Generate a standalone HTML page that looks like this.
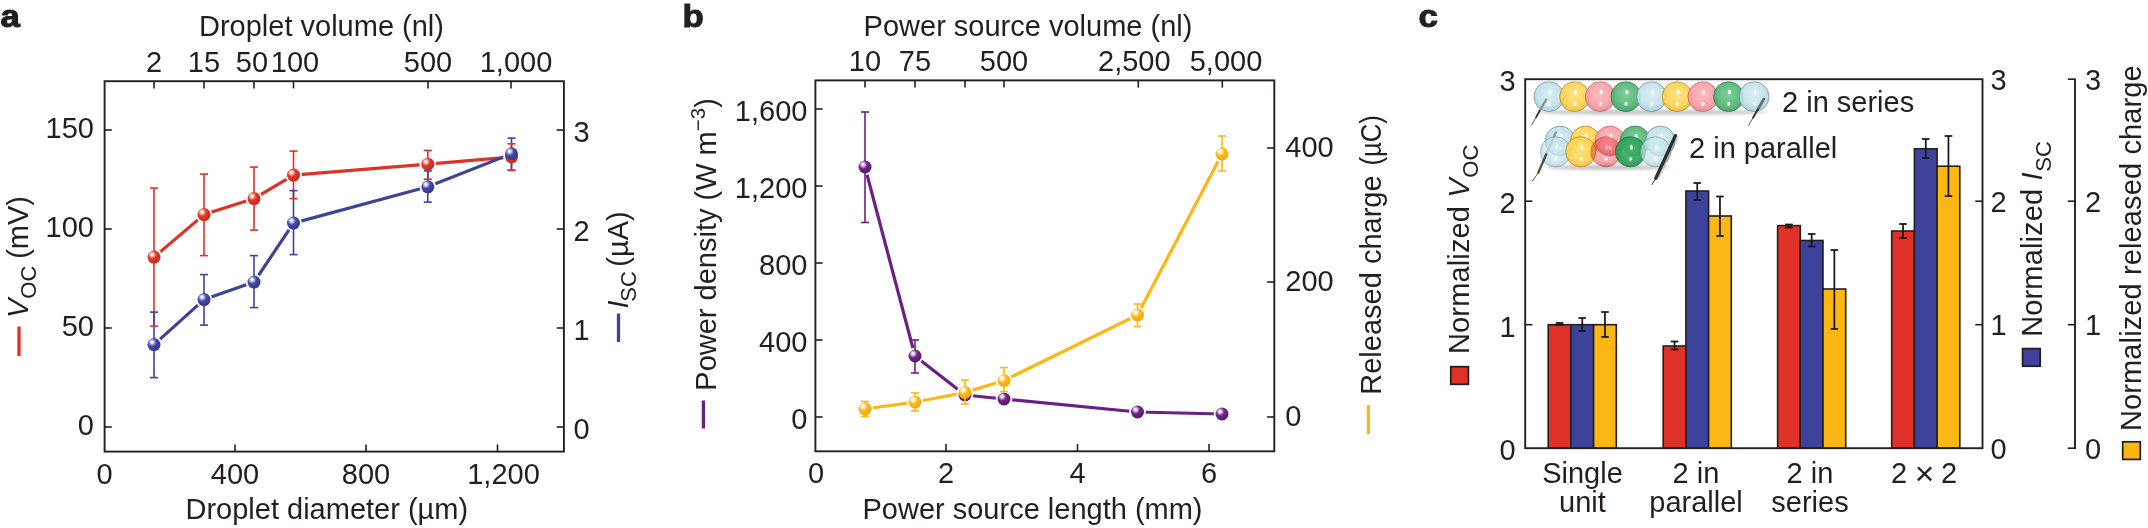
<!DOCTYPE html>
<html><head><meta charset="utf-8"><title>Figure</title>
<style>
html,body{margin:0;padding:0;background:#fff;}
body{width:2148px;height:528px;overflow:hidden;}
svg{display:block;font-family:"Liberation Sans",sans-serif;fill:#231f20;}
.b{font-weight:bold;stroke:#231f20;stroke-width:1.1px;}
</style></head><body>
<svg width="2148" height="528" viewBox="0 0 2148 528">
<defs>
<radialGradient id="gr" cx="0.38" cy="0.34" r="0.72" fx="0.34" fy="0.30"><stop offset="0" stop-color="#fff"/><stop offset="0.07" stop-color="#fff"/><stop offset="0.24" stop-color="#f6a08f"/><stop offset="0.44" stop-color="#e2382b"/><stop offset="1" stop-color="#c7211c"/></radialGradient>
<radialGradient id="gb" cx="0.38" cy="0.34" r="0.72" fx="0.34" fy="0.30"><stop offset="0" stop-color="#fff"/><stop offset="0.07" stop-color="#fff"/><stop offset="0.24" stop-color="#a9aee0"/><stop offset="0.44" stop-color="#444aa6"/><stop offset="1" stop-color="#2e3386"/></radialGradient>
<radialGradient id="gp" cx="0.38" cy="0.34" r="0.72" fx="0.34" fy="0.30"><stop offset="0" stop-color="#fff"/><stop offset="0.07" stop-color="#fff"/><stop offset="0.24" stop-color="#c39ad0"/><stop offset="0.44" stop-color="#6f2686"/><stop offset="1" stop-color="#531468"/></radialGradient>
<radialGradient id="gy" cx="0.38" cy="0.34" r="0.72" fx="0.34" fy="0.30"><stop offset="0" stop-color="#fff"/><stop offset="0.07" stop-color="#fff"/><stop offset="0.24" stop-color="#ffe9a8"/><stop offset="0.44" stop-color="#fdbb1f"/><stop offset="1" stop-color="#f0a400"/></radialGradient>
<radialGradient id="sw" cx="0.5" cy="0.42" r="0.62"><stop offset="0" stop-color="#d6eef3"/><stop offset="0.65" stop-color="#c3e2ea"/><stop offset="1" stop-color="#9fc9d4"/></radialGradient>
<radialGradient id="sy" cx="0.5" cy="0.42" r="0.62"><stop offset="0" stop-color="#fde27a"/><stop offset="0.65" stop-color="#fbd455"/><stop offset="1" stop-color="#e9b935"/></radialGradient>
<radialGradient id="sp" cx="0.5" cy="0.42" r="0.62"><stop offset="0" stop-color="#fbb9bb"/><stop offset="0.65" stop-color="#f6a1a5"/><stop offset="1" stop-color="#e6858c"/></radialGradient>
<radialGradient id="sg" cx="0.5" cy="0.42" r="0.62"><stop offset="0" stop-color="#7ccd98"/><stop offset="0.65" stop-color="#55b777"/><stop offset="1" stop-color="#3d9f62"/></radialGradient>
<radialGradient id="sr" cx="0.5" cy="0.42" r="0.62"><stop offset="0" stop-color="#f87a78"/><stop offset="0.65" stop-color="#ee5558"/><stop offset="1" stop-color="#dc4045"/></radialGradient>
<radialGradient id="sG" cx="0.5" cy="0.42" r="0.62"><stop offset="0" stop-color="#3fb56c"/><stop offset="0.65" stop-color="#2aa257"/><stop offset="1" stop-color="#1f8a4a"/></radialGradient>
<radialGradient id="sP" cx="0.5" cy="0.42" r="0.62"><stop offset="0" stop-color="#fcc3c5"/><stop offset="0.65" stop-color="#f8a9ad"/><stop offset="1" stop-color="#ee9096"/></radialGradient>
<filter id="b2" x="-50%" y="-50%" width="200%" height="200%"><feGaussianBlur stdDeviation="0.45"/></filter>
<filter id="blur" x="-10%" y="-200%" width="120%" height="500%"><feGaussianBlur stdDeviation="1.6"/></filter>
</defs>
<rect width="2148" height="528" fill="#fff"/>
<text transform="translate(0.4,27.3) scale(1.055,0.945)" font-size="33" class="b">a</text>
<rect x="104.6" y="81.2" width="459.29999999999995" height="370.40000000000003" fill="none" stroke="#231f20" stroke-width="1.9"/>
<line x1="104.6" y1="130" x2="111.8" y2="130" stroke="#231f20" stroke-width="1.6" stroke-linecap="butt"/>
<text x="94" y="138.2" font-size="29" text-anchor="end" >150</text>
<line x1="104.6" y1="229" x2="111.8" y2="229" stroke="#231f20" stroke-width="1.6" stroke-linecap="butt"/>
<text x="94" y="237.2" font-size="29" text-anchor="end" >100</text>
<line x1="104.6" y1="328" x2="111.8" y2="328" stroke="#231f20" stroke-width="1.6" stroke-linecap="butt"/>
<text x="94" y="336.2" font-size="29" text-anchor="end" >50</text>
<line x1="104.6" y1="427" x2="111.8" y2="427" stroke="#231f20" stroke-width="1.6" stroke-linecap="butt"/>
<text x="94" y="435.2" font-size="29" text-anchor="end" >0</text>
<line x1="563.9" y1="130" x2="556.6999999999999" y2="130" stroke="#231f20" stroke-width="1.6" stroke-linecap="butt"/>
<text x="573.6" y="141.7" font-size="29" text-anchor="start" >3</text>
<line x1="563.9" y1="229" x2="556.6999999999999" y2="229" stroke="#231f20" stroke-width="1.6" stroke-linecap="butt"/>
<text x="573.6" y="240.7" font-size="29" text-anchor="start" >2</text>
<line x1="563.9" y1="328" x2="556.6999999999999" y2="328" stroke="#231f20" stroke-width="1.6" stroke-linecap="butt"/>
<text x="573.6" y="339.7" font-size="29" text-anchor="start" >1</text>
<line x1="563.9" y1="427" x2="556.6999999999999" y2="427" stroke="#231f20" stroke-width="1.6" stroke-linecap="butt"/>
<text x="573.6" y="438.7" font-size="29" text-anchor="start" >0</text>
<text x="104.6" y="483.6" font-size="29" text-anchor="middle" >0</text>
<line x1="235" y1="451.6" x2="235" y2="444.40000000000003" stroke="#231f20" stroke-width="1.6" stroke-linecap="butt"/>
<text x="235" y="483.6" font-size="29" text-anchor="middle" >400</text>
<line x1="366" y1="451.6" x2="366" y2="444.40000000000003" stroke="#231f20" stroke-width="1.6" stroke-linecap="butt"/>
<text x="366" y="483.6" font-size="29" text-anchor="middle" >800</text>
<line x1="497.5" y1="451.6" x2="497.5" y2="444.40000000000003" stroke="#231f20" stroke-width="1.6" stroke-linecap="butt"/>
<text x="503.5" y="483.6" font-size="29" text-anchor="middle" >1,200</text>
<line x1="154" y1="81.2" x2="154" y2="88.4" stroke="#231f20" stroke-width="1.6" stroke-linecap="butt"/>
<line x1="204" y1="81.2" x2="204" y2="88.4" stroke="#231f20" stroke-width="1.6" stroke-linecap="butt"/>
<line x1="254" y1="81.2" x2="254" y2="88.4" stroke="#231f20" stroke-width="1.6" stroke-linecap="butt"/>
<line x1="293.5" y1="81.2" x2="293.5" y2="88.4" stroke="#231f20" stroke-width="1.6" stroke-linecap="butt"/>
<line x1="428" y1="81.2" x2="428" y2="88.4" stroke="#231f20" stroke-width="1.6" stroke-linecap="butt"/>
<line x1="511" y1="81.2" x2="511" y2="88.4" stroke="#231f20" stroke-width="1.6" stroke-linecap="butt"/>
<text x="154" y="71.6" font-size="29" text-anchor="middle" >2</text>
<text x="204" y="71.6" font-size="29" text-anchor="middle" >15</text>
<text x="252" y="71.6" font-size="29" text-anchor="middle" >50</text>
<text x="295" y="71.6" font-size="29" text-anchor="middle" >100</text>
<text x="428" y="71.6" font-size="29" text-anchor="middle" >500</text>
<text x="516" y="71.6" font-size="29" text-anchor="middle" >1,000</text>
<text x="321.5" y="36" font-size="29" text-anchor="middle" >Droplet volume (nl)</text>
<text x="326.8" y="519.2" font-size="29" text-anchor="middle" >Droplet diameter (µm)</text>
<line x1="19" y1="326.5" x2="19" y2="356" stroke="#df3127" stroke-width="3.3" stroke-linecap="butt"/>
<text transform="translate(27.5,318) rotate(-90)" font-size="29"><tspan font-style="italic">V</tspan><tspan font-size="22" dy="8.5" dx="0">OC</tspan><tspan dy="-8.5" dx="-1.2"> (mV)</tspan></text>
<line x1="618.5" y1="313.5" x2="618.5" y2="342" stroke="#3d439b" stroke-width="3.3" stroke-linecap="butt"/>
<text transform="translate(627.5,308.5) rotate(-90)" font-size="29"><tspan font-style="italic">I</tspan><tspan font-size="22" dy="8.5" dx="-1.2">SC</tspan><tspan dy="-8.5" dx="-3.6"> (µA)</tspan></text>
<polyline points="154,257.1 204,214.6 254,198.6 293.5,175.1 427.8,164.2 511.5,157.0" fill="none" stroke="#df3127" stroke-width="3.2" stroke-linejoin="round"/>
<polyline points="154,344.6 204,299.6 254,282.1 293.5,223.1 427.8,186.79999999999998 511.5,153.79999999999998" fill="none" stroke="#3d439b" stroke-width="3.2" stroke-linejoin="round"/>
<circle cx="154" cy="257.1" r="8.3" fill="#fff"/>
<circle cx="204" cy="214.6" r="8.3" fill="#fff"/>
<circle cx="254" cy="198.6" r="8.3" fill="#fff"/>
<circle cx="293.5" cy="175.1" r="8.3" fill="#fff"/>
<circle cx="427.8" cy="164.2" r="8.3" fill="#fff"/>
<circle cx="511.5" cy="157.0" r="8.3" fill="#fff"/>
<circle cx="154" cy="344.6" r="8.3" fill="#fff"/>
<circle cx="204" cy="299.6" r="8.3" fill="#fff"/>
<circle cx="254" cy="282.1" r="8.3" fill="#fff"/>
<circle cx="293.5" cy="223.1" r="8.3" fill="#fff"/>
<circle cx="427.8" cy="186.79999999999998" r="8.3" fill="#fff"/>
<circle cx="511.5" cy="153.79999999999998" r="8.3" fill="#fff"/>
<line x1="154" y1="188.1" x2="154" y2="326.1" stroke="#df3127" stroke-width="1.6" stroke-linecap="butt"/>
<line x1="204" y1="174.1" x2="204" y2="255.6" stroke="#df3127" stroke-width="1.6" stroke-linecap="butt"/>
<line x1="254" y1="167.1" x2="254" y2="230.1" stroke="#df3127" stroke-width="1.6" stroke-linecap="butt"/>
<line x1="293.5" y1="151.1" x2="293.5" y2="198.6" stroke="#df3127" stroke-width="1.6" stroke-linecap="butt"/>
<line x1="427.8" y1="150.4" x2="427.8" y2="179.2" stroke="#df3127" stroke-width="1.6" stroke-linecap="butt"/>
<line x1="511.5" y1="143.79999999999998" x2="511.5" y2="170.29999999999998" stroke="#df3127" stroke-width="1.6" stroke-linecap="butt"/>
<line x1="154" y1="312.1" x2="154" y2="377.6" stroke="#3d439b" stroke-width="1.6" stroke-linecap="butt"/>
<line x1="204" y1="274.6" x2="204" y2="325.1" stroke="#3d439b" stroke-width="1.6" stroke-linecap="butt"/>
<line x1="254" y1="255.6" x2="254" y2="307.6" stroke="#3d439b" stroke-width="1.6" stroke-linecap="butt"/>
<line x1="293.5" y1="190.6" x2="293.5" y2="254.6" stroke="#3d439b" stroke-width="1.6" stroke-linecap="butt"/>
<line x1="427.8" y1="170.9" x2="427.8" y2="202.1" stroke="#3d439b" stroke-width="1.6" stroke-linecap="butt"/>
<line x1="511.5" y1="138.1" x2="511.5" y2="170.29999999999998" stroke="#3d439b" stroke-width="1.6" stroke-linecap="butt"/>
<line x1="150.0" y1="312.1" x2="158.0" y2="312.1" stroke="#3d439b" stroke-width="1.6" stroke-linecap="butt"/>
<line x1="150.0" y1="377.6" x2="158.0" y2="377.6" stroke="#3d439b" stroke-width="1.6" stroke-linecap="butt"/>
<line x1="200.0" y1="274.6" x2="208.0" y2="274.6" stroke="#3d439b" stroke-width="1.6" stroke-linecap="butt"/>
<line x1="200.0" y1="325.1" x2="208.0" y2="325.1" stroke="#3d439b" stroke-width="1.6" stroke-linecap="butt"/>
<line x1="250.0" y1="255.6" x2="258.0" y2="255.6" stroke="#3d439b" stroke-width="1.6" stroke-linecap="butt"/>
<line x1="250.0" y1="307.6" x2="258.0" y2="307.6" stroke="#3d439b" stroke-width="1.6" stroke-linecap="butt"/>
<line x1="289.5" y1="190.6" x2="297.5" y2="190.6" stroke="#3d439b" stroke-width="1.6" stroke-linecap="butt"/>
<line x1="289.5" y1="254.6" x2="297.5" y2="254.6" stroke="#3d439b" stroke-width="1.6" stroke-linecap="butt"/>
<line x1="423.8" y1="170.9" x2="431.8" y2="170.9" stroke="#3d439b" stroke-width="1.6" stroke-linecap="butt"/>
<line x1="423.8" y1="202.1" x2="431.8" y2="202.1" stroke="#3d439b" stroke-width="1.6" stroke-linecap="butt"/>
<line x1="507.5" y1="138.1" x2="515.5" y2="138.1" stroke="#3d439b" stroke-width="1.6" stroke-linecap="butt"/>
<line x1="507.5" y1="170.29999999999998" x2="515.5" y2="170.29999999999998" stroke="#3d439b" stroke-width="1.6" stroke-linecap="butt"/>
<line x1="150.0" y1="188.1" x2="158.0" y2="188.1" stroke="#df3127" stroke-width="1.6" stroke-linecap="butt"/>
<line x1="150.0" y1="326.1" x2="158.0" y2="326.1" stroke="#df3127" stroke-width="1.6" stroke-linecap="butt"/>
<line x1="200.0" y1="174.1" x2="208.0" y2="174.1" stroke="#df3127" stroke-width="1.6" stroke-linecap="butt"/>
<line x1="200.0" y1="255.6" x2="208.0" y2="255.6" stroke="#df3127" stroke-width="1.6" stroke-linecap="butt"/>
<line x1="250.0" y1="167.1" x2="258.0" y2="167.1" stroke="#df3127" stroke-width="1.6" stroke-linecap="butt"/>
<line x1="250.0" y1="230.1" x2="258.0" y2="230.1" stroke="#df3127" stroke-width="1.6" stroke-linecap="butt"/>
<line x1="289.5" y1="151.1" x2="297.5" y2="151.1" stroke="#df3127" stroke-width="1.6" stroke-linecap="butt"/>
<line x1="289.5" y1="198.6" x2="297.5" y2="198.6" stroke="#df3127" stroke-width="1.6" stroke-linecap="butt"/>
<line x1="423.8" y1="150.4" x2="431.8" y2="150.4" stroke="#df3127" stroke-width="1.6" stroke-linecap="butt"/>
<line x1="423.8" y1="179.2" x2="431.8" y2="179.2" stroke="#df3127" stroke-width="1.6" stroke-linecap="butt"/>
<line x1="507.5" y1="143.79999999999998" x2="515.5" y2="143.79999999999998" stroke="#df3127" stroke-width="1.6" stroke-linecap="butt"/>
<line x1="507.5" y1="170.29999999999998" x2="515.5" y2="170.29999999999998" stroke="#df3127" stroke-width="1.6" stroke-linecap="butt"/>
<circle cx="154" cy="257.1" r="6.5" fill="url(#gr)"/>
<circle cx="204" cy="214.6" r="6.5" fill="url(#gr)"/>
<circle cx="254" cy="198.6" r="6.5" fill="url(#gr)"/>
<circle cx="293.5" cy="175.1" r="6.5" fill="url(#gr)"/>
<circle cx="427.8" cy="164.2" r="6.5" fill="url(#gr)"/>
<circle cx="511.5" cy="157.0" r="6.5" fill="url(#gr)"/>
<circle cx="154" cy="344.6" r="6.5" fill="url(#gb)"/>
<circle cx="204" cy="299.6" r="6.5" fill="url(#gb)"/>
<circle cx="254" cy="282.1" r="6.5" fill="url(#gb)"/>
<circle cx="293.5" cy="223.1" r="6.5" fill="url(#gb)"/>
<circle cx="427.8" cy="186.79999999999998" r="6.5" fill="url(#gb)"/>
<circle cx="511.5" cy="153.79999999999998" r="6.5" fill="url(#gb)"/>
<text transform="translate(682.4,27.3) scale(1.055,0.945)" font-size="33" class="b">b</text>
<rect x="815.4" y="80.4" width="458.9" height="370.9" fill="none" stroke="#231f20" stroke-width="1.9"/>
<line x1="815.4" y1="109" x2="822.6" y2="109" stroke="#231f20" stroke-width="1.6" stroke-linecap="butt"/>
<text x="807.4" y="121" font-size="29" text-anchor="end" >1,600</text>
<line x1="815.4" y1="186" x2="822.6" y2="186" stroke="#231f20" stroke-width="1.6" stroke-linecap="butt"/>
<text x="807.4" y="198" font-size="29" text-anchor="end" >1,200</text>
<line x1="815.4" y1="263" x2="822.6" y2="263" stroke="#231f20" stroke-width="1.6" stroke-linecap="butt"/>
<text x="807.4" y="275" font-size="29" text-anchor="end" >800</text>
<line x1="815.4" y1="340" x2="822.6" y2="340" stroke="#231f20" stroke-width="1.6" stroke-linecap="butt"/>
<text x="807.4" y="352" font-size="29" text-anchor="end" >400</text>
<line x1="815.4" y1="417" x2="822.6" y2="417" stroke="#231f20" stroke-width="1.6" stroke-linecap="butt"/>
<text x="807.4" y="429" font-size="29" text-anchor="end" >0</text>
<line x1="1274.3" y1="148" x2="1267.1" y2="148" stroke="#231f20" stroke-width="1.6" stroke-linecap="butt"/>
<text x="1285.3" y="156.8" font-size="29" text-anchor="start" >400</text>
<line x1="1274.3" y1="282" x2="1267.1" y2="282" stroke="#231f20" stroke-width="1.6" stroke-linecap="butt"/>
<text x="1285.3" y="290.8" font-size="29" text-anchor="start" >200</text>
<line x1="1274.3" y1="417" x2="1267.1" y2="417" stroke="#231f20" stroke-width="1.6" stroke-linecap="butt"/>
<text x="1285.3" y="425.8" font-size="29" text-anchor="start" >0</text>
<text x="816" y="483" font-size="29" text-anchor="middle" >0</text>
<line x1="946" y1="451.3" x2="946" y2="444.1" stroke="#231f20" stroke-width="1.6" stroke-linecap="butt"/>
<text x="946" y="483" font-size="29" text-anchor="middle" >2</text>
<line x1="1077.5" y1="451.3" x2="1077.5" y2="444.1" stroke="#231f20" stroke-width="1.6" stroke-linecap="butt"/>
<text x="1077.5" y="483" font-size="29" text-anchor="middle" >4</text>
<line x1="1209" y1="451.3" x2="1209" y2="444.1" stroke="#231f20" stroke-width="1.6" stroke-linecap="butt"/>
<text x="1209" y="483" font-size="29" text-anchor="middle" >6</text>
<line x1="865" y1="80.4" x2="865" y2="87.60000000000001" stroke="#231f20" stroke-width="1.6" stroke-linecap="butt"/>
<line x1="915" y1="80.4" x2="915" y2="87.60000000000001" stroke="#231f20" stroke-width="1.6" stroke-linecap="butt"/>
<line x1="965" y1="80.4" x2="965" y2="87.60000000000001" stroke="#231f20" stroke-width="1.6" stroke-linecap="butt"/>
<line x1="1004" y1="80.4" x2="1004" y2="87.60000000000001" stroke="#231f20" stroke-width="1.6" stroke-linecap="butt"/>
<line x1="1138.3" y1="80.4" x2="1138.3" y2="87.60000000000001" stroke="#231f20" stroke-width="1.6" stroke-linecap="butt"/>
<line x1="1222.3" y1="80.4" x2="1222.3" y2="87.60000000000001" stroke="#231f20" stroke-width="1.6" stroke-linecap="butt"/>
<text x="865" y="71.1" font-size="29" text-anchor="middle" >10</text>
<text x="915" y="71.1" font-size="29" text-anchor="middle" >75</text>
<text x="1004" y="71.1" font-size="29" text-anchor="middle" >500</text>
<text x="1134.3" y="71.1" font-size="29" text-anchor="middle" >2,500</text>
<text x="1226" y="71.1" font-size="29" text-anchor="middle" >5,000</text>
<text x="1028" y="35.5" font-size="29" text-anchor="middle" >Power source volume (nl)</text>
<text x="1032.5" y="519.2" font-size="29" text-anchor="middle" >Power source length (mm)</text>
<line x1="703.4" y1="400.5" x2="703.4" y2="428.5" stroke="#6a2181" stroke-width="3.3" stroke-linecap="butt"/>
<text transform="translate(715.8,390.7) rotate(-90)" font-size="29">Power density (W m<tspan font-size="20.5" dy="-10.5">−3</tspan><tspan dy="10.5">)</tspan></text>
<line x1="1368.4" y1="405" x2="1368.4" y2="434" stroke="#fdb714" stroke-width="3.3" stroke-linecap="butt"/>
<text transform="translate(1380.8,394.7) rotate(-90)" font-size="29">Released charge</text>
<text transform="translate(1380.8,165.6) rotate(-90)" font-size="29" textLength="50.5" lengthAdjust="spacingAndGlyphs">(µC)</text>
<polyline points="865,167 915,356 965,395 1004,399 1137.5,412 1222,414" fill="none" stroke="#6a2181" stroke-width="3.2" stroke-linejoin="round"/>
<polyline points="865,409 915,402 965,392.5 1004,380.5 1137.5,315 1222,154" fill="none" stroke="#fdb714" stroke-width="3.2" stroke-linejoin="round"/>
<circle cx="865" cy="167" r="8.3" fill="#fff"/>
<circle cx="915" cy="356" r="8.3" fill="#fff"/>
<circle cx="965" cy="395" r="8.3" fill="#fff"/>
<circle cx="1004" cy="399" r="8.3" fill="#fff"/>
<circle cx="1137.5" cy="412" r="8.3" fill="#fff"/>
<circle cx="1222" cy="414" r="8.3" fill="#fff"/>
<circle cx="865" cy="409" r="8.3" fill="#fff"/>
<circle cx="915" cy="402" r="8.3" fill="#fff"/>
<circle cx="965" cy="392.5" r="8.3" fill="#fff"/>
<circle cx="1004" cy="380.5" r="8.3" fill="#fff"/>
<circle cx="1137.5" cy="315" r="8.3" fill="#fff"/>
<circle cx="1222" cy="154" r="8.3" fill="#fff"/>
<line x1="865" y1="112" x2="865" y2="222.5" stroke="#6a2181" stroke-width="1.6" stroke-linecap="butt"/>
<line x1="861.0" y1="112" x2="869.0" y2="112" stroke="#6a2181" stroke-width="1.6" stroke-linecap="butt"/>
<line x1="861.0" y1="222.5" x2="869.0" y2="222.5" stroke="#6a2181" stroke-width="1.6" stroke-linecap="butt"/>
<line x1="915" y1="340" x2="915" y2="373" stroke="#6a2181" stroke-width="1.6" stroke-linecap="butt"/>
<line x1="911.0" y1="340" x2="919.0" y2="340" stroke="#6a2181" stroke-width="1.6" stroke-linecap="butt"/>
<line x1="911.0" y1="373" x2="919.0" y2="373" stroke="#6a2181" stroke-width="1.6" stroke-linecap="butt"/>
<circle cx="865" cy="167" r="6.5" fill="url(#gp)"/>
<circle cx="915" cy="356" r="6.5" fill="url(#gp)"/>
<circle cx="965" cy="395" r="6.5" fill="url(#gp)"/>
<circle cx="1004" cy="399" r="6.5" fill="url(#gp)"/>
<circle cx="1137.5" cy="412" r="6.5" fill="url(#gp)"/>
<circle cx="1222" cy="414" r="6.5" fill="url(#gp)"/>
<line x1="865" y1="401.5" x2="865" y2="416.5" stroke="#fdb714" stroke-width="1.6" stroke-linecap="butt"/>
<line x1="861.0" y1="401.5" x2="869.0" y2="401.5" stroke="#fdb714" stroke-width="1.6" stroke-linecap="butt"/>
<line x1="861.0" y1="416.5" x2="869.0" y2="416.5" stroke="#fdb714" stroke-width="1.6" stroke-linecap="butt"/>
<line x1="915" y1="393" x2="915" y2="411" stroke="#fdb714" stroke-width="1.6" stroke-linecap="butt"/>
<line x1="911.0" y1="393" x2="919.0" y2="393" stroke="#fdb714" stroke-width="1.6" stroke-linecap="butt"/>
<line x1="911.0" y1="411" x2="919.0" y2="411" stroke="#fdb714" stroke-width="1.6" stroke-linecap="butt"/>
<line x1="965" y1="380" x2="965" y2="404" stroke="#fdb714" stroke-width="1.6" stroke-linecap="butt"/>
<line x1="961.0" y1="380" x2="969.0" y2="380" stroke="#fdb714" stroke-width="1.6" stroke-linecap="butt"/>
<line x1="961.0" y1="404" x2="969.0" y2="404" stroke="#fdb714" stroke-width="1.6" stroke-linecap="butt"/>
<line x1="1004" y1="367.5" x2="1004" y2="391.5" stroke="#fdb714" stroke-width="1.6" stroke-linecap="butt"/>
<line x1="1000.0" y1="367.5" x2="1008.0" y2="367.5" stroke="#fdb714" stroke-width="1.6" stroke-linecap="butt"/>
<line x1="1000.0" y1="391.5" x2="1008.0" y2="391.5" stroke="#fdb714" stroke-width="1.6" stroke-linecap="butt"/>
<line x1="1137.5" y1="304" x2="1137.5" y2="326.5" stroke="#fdb714" stroke-width="1.6" stroke-linecap="butt"/>
<line x1="1133.5" y1="304" x2="1141.5" y2="304" stroke="#fdb714" stroke-width="1.6" stroke-linecap="butt"/>
<line x1="1133.5" y1="326.5" x2="1141.5" y2="326.5" stroke="#fdb714" stroke-width="1.6" stroke-linecap="butt"/>
<line x1="1222" y1="136" x2="1222" y2="171" stroke="#fdb714" stroke-width="1.6" stroke-linecap="butt"/>
<line x1="1218.0" y1="136" x2="1226.0" y2="136" stroke="#fdb714" stroke-width="1.6" stroke-linecap="butt"/>
<line x1="1218.0" y1="171" x2="1226.0" y2="171" stroke="#fdb714" stroke-width="1.6" stroke-linecap="butt"/>
<circle cx="865" cy="409" r="6.5" fill="url(#gy)"/>
<circle cx="915" cy="402" r="6.5" fill="url(#gy)"/>
<circle cx="965" cy="392.5" r="6.5" fill="url(#gy)"/>
<circle cx="1004" cy="380.5" r="6.5" fill="url(#gy)"/>
<circle cx="1137.5" cy="315" r="6.5" fill="url(#gy)"/>
<circle cx="1222" cy="154" r="6.5" fill="url(#gy)"/>
<text transform="translate(1418.4,27.3) scale(1.055,0.945)" font-size="33" class="b">c</text>
<rect x="1548.2" y="324.7" width="22.7" height="123.5" fill="#df3127" stroke="#231f20" stroke-width="1.6"/>
<rect x="1570.9" y="324.7" width="22.7" height="123.5" fill="#3d439b" stroke="#231f20" stroke-width="1.6"/>
<rect x="1593.6000000000001" y="324.7" width="22.7" height="123.5" fill="#fdb714" stroke="#231f20" stroke-width="1.6"/>
<line x1="1559.55" y1="323" x2="1559.55" y2="325" stroke="#1a1718" stroke-width="1.75" stroke-linecap="butt"/>
<line x1="1555.75" y1="323" x2="1563.35" y2="323" stroke="#1a1718" stroke-width="1.75" stroke-linecap="butt"/>
<line x1="1555.75" y1="325" x2="1563.35" y2="325" stroke="#1a1718" stroke-width="1.75" stroke-linecap="butt"/>
<line x1="1582.25" y1="318" x2="1582.25" y2="331" stroke="#1a1718" stroke-width="1.75" stroke-linecap="butt"/>
<line x1="1578.45" y1="318" x2="1586.05" y2="318" stroke="#1a1718" stroke-width="1.75" stroke-linecap="butt"/>
<line x1="1578.45" y1="331" x2="1586.05" y2="331" stroke="#1a1718" stroke-width="1.75" stroke-linecap="butt"/>
<line x1="1604.95" y1="312" x2="1604.95" y2="337" stroke="#1a1718" stroke-width="1.75" stroke-linecap="butt"/>
<line x1="1601.15" y1="312" x2="1608.75" y2="312" stroke="#1a1718" stroke-width="1.75" stroke-linecap="butt"/>
<line x1="1601.15" y1="337" x2="1608.75" y2="337" stroke="#1a1718" stroke-width="1.75" stroke-linecap="butt"/>
<rect x="1663.2" y="346" width="22.7" height="102.19999999999999" fill="#df3127" stroke="#231f20" stroke-width="1.6"/>
<rect x="1685.9" y="191" width="22.7" height="257.2" fill="#3d439b" stroke="#231f20" stroke-width="1.6"/>
<rect x="1708.6000000000001" y="216" width="22.7" height="232.2" fill="#fdb714" stroke="#231f20" stroke-width="1.6"/>
<line x1="1674.55" y1="341.5" x2="1674.55" y2="349.5" stroke="#1a1718" stroke-width="1.75" stroke-linecap="butt"/>
<line x1="1670.75" y1="341.5" x2="1678.35" y2="341.5" stroke="#1a1718" stroke-width="1.75" stroke-linecap="butt"/>
<line x1="1670.75" y1="349.5" x2="1678.35" y2="349.5" stroke="#1a1718" stroke-width="1.75" stroke-linecap="butt"/>
<line x1="1697.25" y1="183" x2="1697.25" y2="200" stroke="#1a1718" stroke-width="1.75" stroke-linecap="butt"/>
<line x1="1693.45" y1="183" x2="1701.05" y2="183" stroke="#1a1718" stroke-width="1.75" stroke-linecap="butt"/>
<line x1="1693.45" y1="200" x2="1701.05" y2="200" stroke="#1a1718" stroke-width="1.75" stroke-linecap="butt"/>
<line x1="1719.95" y1="196.5" x2="1719.95" y2="236" stroke="#1a1718" stroke-width="1.75" stroke-linecap="butt"/>
<line x1="1716.15" y1="196.5" x2="1723.75" y2="196.5" stroke="#1a1718" stroke-width="1.75" stroke-linecap="butt"/>
<line x1="1716.15" y1="236" x2="1723.75" y2="236" stroke="#1a1718" stroke-width="1.75" stroke-linecap="butt"/>
<rect x="1777.6" y="225.6" width="22.7" height="222.6" fill="#df3127" stroke="#231f20" stroke-width="1.6"/>
<rect x="1800.3" y="240.5" width="22.7" height="207.7" fill="#3d439b" stroke="#231f20" stroke-width="1.6"/>
<rect x="1823.0" y="289" width="22.7" height="159.2" fill="#fdb714" stroke="#231f20" stroke-width="1.6"/>
<line x1="1788.9499999999998" y1="224.5" x2="1788.9499999999998" y2="227.5" stroke="#1a1718" stroke-width="1.75" stroke-linecap="butt"/>
<line x1="1785.1499999999999" y1="224.5" x2="1792.7499999999998" y2="224.5" stroke="#1a1718" stroke-width="1.75" stroke-linecap="butt"/>
<line x1="1785.1499999999999" y1="227.5" x2="1792.7499999999998" y2="227.5" stroke="#1a1718" stroke-width="1.75" stroke-linecap="butt"/>
<line x1="1811.6499999999999" y1="234" x2="1811.6499999999999" y2="246.5" stroke="#1a1718" stroke-width="1.75" stroke-linecap="butt"/>
<line x1="1807.85" y1="234" x2="1815.4499999999998" y2="234" stroke="#1a1718" stroke-width="1.75" stroke-linecap="butt"/>
<line x1="1807.85" y1="246.5" x2="1815.4499999999998" y2="246.5" stroke="#1a1718" stroke-width="1.75" stroke-linecap="butt"/>
<line x1="1834.35" y1="250" x2="1834.35" y2="329" stroke="#1a1718" stroke-width="1.75" stroke-linecap="butt"/>
<line x1="1830.55" y1="250" x2="1838.1499999999999" y2="250" stroke="#1a1718" stroke-width="1.75" stroke-linecap="butt"/>
<line x1="1830.55" y1="329" x2="1838.1499999999999" y2="329" stroke="#1a1718" stroke-width="1.75" stroke-linecap="butt"/>
<rect x="1891.7" y="231" width="22.7" height="217.2" fill="#df3127" stroke="#231f20" stroke-width="1.6"/>
<rect x="1914.4" y="148.8" width="22.7" height="299.4" fill="#3d439b" stroke="#231f20" stroke-width="1.6"/>
<rect x="1937.1000000000001" y="166.2" width="22.7" height="282.0" fill="#fdb714" stroke="#231f20" stroke-width="1.6"/>
<line x1="1903.05" y1="224" x2="1903.05" y2="238" stroke="#1a1718" stroke-width="1.75" stroke-linecap="butt"/>
<line x1="1899.25" y1="224" x2="1906.85" y2="224" stroke="#1a1718" stroke-width="1.75" stroke-linecap="butt"/>
<line x1="1899.25" y1="238" x2="1906.85" y2="238" stroke="#1a1718" stroke-width="1.75" stroke-linecap="butt"/>
<line x1="1925.75" y1="139" x2="1925.75" y2="158" stroke="#1a1718" stroke-width="1.75" stroke-linecap="butt"/>
<line x1="1921.95" y1="139" x2="1929.55" y2="139" stroke="#1a1718" stroke-width="1.75" stroke-linecap="butt"/>
<line x1="1921.95" y1="158" x2="1929.55" y2="158" stroke="#1a1718" stroke-width="1.75" stroke-linecap="butt"/>
<line x1="1948.45" y1="136" x2="1948.45" y2="196" stroke="#1a1718" stroke-width="1.75" stroke-linecap="butt"/>
<line x1="1944.65" y1="136" x2="1952.25" y2="136" stroke="#1a1718" stroke-width="1.75" stroke-linecap="butt"/>
<line x1="1944.65" y1="196" x2="1952.25" y2="196" stroke="#1a1718" stroke-width="1.75" stroke-linecap="butt"/>
<rect x="1525.2" y="79.2" width="457.29999999999995" height="369.0" fill="none" stroke="#231f20" stroke-width="1.9"/>
<text x="1515.7" y="91.2" font-size="29" text-anchor="end" >3</text>
<text x="1990.5" y="89.8" font-size="29" text-anchor="start" >3</text>
<line x1="1525.2" y1="201.2" x2="1532.4" y2="201.2" stroke="#231f20" stroke-width="1.6" stroke-linecap="butt"/>
<line x1="1982.5" y1="201.2" x2="1975.3" y2="201.2" stroke="#231f20" stroke-width="1.6" stroke-linecap="butt"/>
<text x="1515.7" y="213.2" font-size="29" text-anchor="end" >2</text>
<text x="1990.5" y="211.79999999999998" font-size="29" text-anchor="start" >2</text>
<line x1="1525.2" y1="324.7" x2="1532.4" y2="324.7" stroke="#231f20" stroke-width="1.6" stroke-linecap="butt"/>
<line x1="1982.5" y1="324.7" x2="1975.3" y2="324.7" stroke="#231f20" stroke-width="1.6" stroke-linecap="butt"/>
<text x="1515.7" y="336.7" font-size="29" text-anchor="end" >1</text>
<text x="1990.5" y="335.3" font-size="29" text-anchor="start" >1</text>
<text x="1515.7" y="460.2" font-size="29" text-anchor="end" >0</text>
<text x="1990.5" y="458.8" font-size="29" text-anchor="start" >0</text>
<line x1="2075" y1="78.4" x2="2075" y2="449.0" stroke="#231f20" stroke-width="1.9" stroke-linecap="butt"/>
<line x1="2067.8" y1="79.2" x2="2075" y2="79.2" stroke="#231f20" stroke-width="1.6" stroke-linecap="butt"/>
<text x="2085" y="89.8" font-size="29" text-anchor="start" >3</text>
<line x1="2067.8" y1="201.2" x2="2075" y2="201.2" stroke="#231f20" stroke-width="1.6" stroke-linecap="butt"/>
<text x="2085" y="211.79999999999998" font-size="29" text-anchor="start" >2</text>
<line x1="2067.8" y1="324.7" x2="2075" y2="324.7" stroke="#231f20" stroke-width="1.6" stroke-linecap="butt"/>
<text x="2085" y="335.3" font-size="29" text-anchor="start" >1</text>
<line x1="2067.8" y1="448.2" x2="2075" y2="448.2" stroke="#231f20" stroke-width="1.6" stroke-linecap="butt"/>
<text x="2085" y="458.8" font-size="29" text-anchor="start" >0</text>
<text x="1582.5" y="482.5" font-size="29" text-anchor="middle" >Single</text>
<text x="1582.5" y="511.5" font-size="29" text-anchor="middle" >unit</text>
<text x="1696" y="482.5" font-size="29" text-anchor="middle" >2 in</text>
<text x="1696" y="511.5" font-size="29" text-anchor="middle" >parallel</text>
<text x="1810" y="482.5" font-size="29" text-anchor="middle" >2 in</text>
<text x="1810" y="511.5" font-size="29" text-anchor="middle" >series</text>
<text x="1924" y="482.5" font-size="29" text-anchor="middle" >2<tspan font-size="33.5" dx="-1.5" dy="2"> ×</tspan><tspan dy="-2" dx="-1.5"> 2</tspan></text>
<rect x="1450.8" y="366.7" width="17.6" height="17.6" fill="#df3127" stroke="#231f20" stroke-width="1.75"/>
<text transform="translate(1469.3,354) rotate(-90)" font-size="29" letter-spacing="0.14">Normalized <tspan font-style="italic">V</tspan><tspan font-size="22" dy="8.5" dx="0.5">OC</tspan></text>
<rect x="2022.6" y="348.6" width="17.6" height="17.6" fill="#3d439b" stroke="#231f20" stroke-width="1.75"/>
<text transform="translate(2042.4,336.8) rotate(-90)" font-size="29" letter-spacing="0.14">Normalized <tspan font-style="italic">I</tspan><tspan font-size="22" dy="8.5" dx="0.5">SC</tspan></text>
<rect x="2122.7" y="441.8" width="17.6" height="17.6" fill="#fdb714" stroke="#231f20" stroke-width="1.75"/>
<text transform="translate(2141.3,431) rotate(-90)" font-size="29" letter-spacing="0.12">Normalized released charge</text>
<g filter="url(#blur)" opacity="0.33">
<ellipse cx="1652" cy="112.2" rx="116" ry="2.6" fill="#555"/>
<ellipse cx="1608" cy="167.3" rx="62" ry="2.6" fill="#555"/>
</g>
<g opacity="0.94" ><circle cx="1548.9" cy="96.7" r="14.9" fill="url(#sw)" stroke="#6b8f99" stroke-width="0.8"/><ellipse cx="1549.9" cy="92.10000000000001" rx="1.5" ry="2.5" fill="#fff" opacity="0.95" filter="url(#b2)"/><ellipse cx="1549.1000000000001" cy="103.9" rx="1.7" ry="1.8" fill="#fff" opacity="0.9" filter="url(#b2)"/></g>
<g opacity="0.94" ><circle cx="1574.5500000000002" cy="96.7" r="14.9" fill="url(#sy)" stroke="#b8892a" stroke-width="0.8"/><ellipse cx="1575.5500000000002" cy="92.10000000000001" rx="1.5" ry="2.5" fill="#fff" opacity="0.95" filter="url(#b2)"/><ellipse cx="1574.7500000000002" cy="103.9" rx="1.7" ry="1.8" fill="#fff" opacity="0.9" filter="url(#b2)"/></g>
<g opacity="0.94" ><circle cx="1600.2" cy="96.7" r="14.9" fill="url(#sp)" stroke="#c0686f" stroke-width="0.8"/><ellipse cx="1601.2" cy="92.10000000000001" rx="1.5" ry="2.5" fill="#fff" opacity="0.95" filter="url(#b2)"/><ellipse cx="1600.4" cy="103.9" rx="1.7" ry="1.8" fill="#fff" opacity="0.9" filter="url(#b2)"/></g>
<g opacity="0.94" ><circle cx="1625.8500000000001" cy="96.7" r="14.9" fill="url(#sg)" stroke="#2a7547" stroke-width="0.8"/><ellipse cx="1626.8500000000001" cy="92.10000000000001" rx="1.5" ry="2.5" fill="#fff" opacity="0.95" filter="url(#b2)"/><ellipse cx="1626.0500000000002" cy="103.9" rx="1.7" ry="1.8" fill="#fff" opacity="0.9" filter="url(#b2)"/></g>
<g opacity="0.94" ><circle cx="1651.5" cy="96.7" r="14.9" fill="url(#sw)" stroke="#6b8f99" stroke-width="0.8"/><ellipse cx="1652.5" cy="92.10000000000001" rx="1.5" ry="2.5" fill="#fff" opacity="0.95" filter="url(#b2)"/><ellipse cx="1651.7" cy="103.9" rx="1.7" ry="1.8" fill="#fff" opacity="0.9" filter="url(#b2)"/></g>
<g opacity="0.94" ><circle cx="1677.15" cy="96.7" r="14.9" fill="url(#sy)" stroke="#b8892a" stroke-width="0.8"/><ellipse cx="1678.15" cy="92.10000000000001" rx="1.5" ry="2.5" fill="#fff" opacity="0.95" filter="url(#b2)"/><ellipse cx="1677.3500000000001" cy="103.9" rx="1.7" ry="1.8" fill="#fff" opacity="0.9" filter="url(#b2)"/></g>
<g opacity="0.94" ><circle cx="1702.8000000000002" cy="96.7" r="14.9" fill="url(#sp)" stroke="#c0686f" stroke-width="0.8"/><ellipse cx="1703.8000000000002" cy="92.10000000000001" rx="1.5" ry="2.5" fill="#fff" opacity="0.95" filter="url(#b2)"/><ellipse cx="1703.0000000000002" cy="103.9" rx="1.7" ry="1.8" fill="#fff" opacity="0.9" filter="url(#b2)"/></g>
<g opacity="0.94" ><circle cx="1728.45" cy="96.7" r="14.9" fill="url(#sg)" stroke="#2a7547" stroke-width="0.8"/><ellipse cx="1729.45" cy="92.10000000000001" rx="1.5" ry="2.5" fill="#fff" opacity="0.95" filter="url(#b2)"/><ellipse cx="1728.65" cy="103.9" rx="1.7" ry="1.8" fill="#fff" opacity="0.9" filter="url(#b2)"/></g>
<g opacity="0.94" ><circle cx="1754.1000000000001" cy="96.7" r="14.9" fill="url(#sw)" stroke="#6b8f99" stroke-width="0.8"/><ellipse cx="1755.1000000000001" cy="92.10000000000001" rx="1.5" ry="2.5" fill="#fff" opacity="0.95" filter="url(#b2)"/><ellipse cx="1754.3000000000002" cy="103.9" rx="1.7" ry="1.8" fill="#fff" opacity="0.9" filter="url(#b2)"/></g>
<line x1="1546.2" y1="99.4" x2="1539.3" y2="111.5" stroke="#5f7f88" stroke-width="2.2" stroke-linecap="round" opacity="0.75"/>
<line x1="1539.6" y1="111" x2="1536.2" y2="117" stroke="#2f2f31" stroke-width="1.7" stroke-linecap="round"/>
<line x1="1536.2" y1="117" x2="1531.6" y2="125.2" stroke="#2f2f31" stroke-width="0.8"/>
<line x1="1763.8" y1="99" x2="1757.5" y2="110" stroke="#4a5a60" stroke-width="2.6" stroke-linecap="round" opacity="0.85"/>
<line x1="1757.8" y1="109.5" x2="1753" y2="117.8" stroke="#2f2f31" stroke-width="1.8" stroke-linecap="round"/>
<line x1="1753" y1="117.8" x2="1748.4" y2="125.6" stroke="#2f2f31" stroke-width="0.8"/>
<g opacity="0.95" ><circle cx="1560.1" cy="140.9" r="14.8" fill="url(#sw)" stroke="#6b8f99" stroke-width="0.8"/><ellipse cx="1561.1" cy="136.3" rx="1.5" ry="2.5" fill="#fff" opacity="0.95" filter="url(#b2)"/><ellipse cx="1560.3" cy="148.1" rx="1.7" ry="1.8" fill="#fff" opacity="0.9" filter="url(#b2)"/></g>
<g opacity="0.95" ><circle cx="1585.3" cy="140.9" r="14.8" fill="url(#sy)" stroke="#b8892a" stroke-width="0.8"/><ellipse cx="1586.3" cy="136.3" rx="1.5" ry="2.5" fill="#fff" opacity="0.95" filter="url(#b2)"/><ellipse cx="1585.5" cy="148.1" rx="1.7" ry="1.8" fill="#fff" opacity="0.9" filter="url(#b2)"/></g>
<g opacity="0.95" ><circle cx="1609.9" cy="140.9" r="14.8" fill="url(#sp)" stroke="#c0686f" stroke-width="0.8"/><ellipse cx="1610.9" cy="136.3" rx="1.5" ry="2.5" fill="#fff" opacity="0.95" filter="url(#b2)"/><ellipse cx="1610.1000000000001" cy="148.1" rx="1.7" ry="1.8" fill="#fff" opacity="0.9" filter="url(#b2)"/></g>
<g opacity="0.95" ><circle cx="1635.1" cy="140.9" r="14.8" fill="url(#sg)" stroke="#2a7547" stroke-width="0.8"/><ellipse cx="1636.1" cy="136.3" rx="1.5" ry="2.5" fill="#fff" opacity="0.95" filter="url(#b2)"/><ellipse cx="1635.3" cy="148.1" rx="1.7" ry="1.8" fill="#fff" opacity="0.9" filter="url(#b2)"/></g>
<g opacity="0.95" ><circle cx="1660.3" cy="140.9" r="14.8" fill="url(#sw)" stroke="#6b8f99" stroke-width="0.8"/><ellipse cx="1661.3" cy="136.3" rx="1.5" ry="2.5" fill="#fff" opacity="0.95" filter="url(#b2)"/><ellipse cx="1660.5" cy="148.1" rx="1.7" ry="1.8" fill="#fff" opacity="0.9" filter="url(#b2)"/></g>
<line x1="1555.8" y1="132.4" x2="1545.5" y2="156" stroke="#5f7f88" stroke-width="2.4" stroke-linecap="round" opacity="0.7"/>
<clipPath id="cy1"><circle cx="1609.9" cy="140.9" r="14.8"/></clipPath>
<g opacity="0.72" ><circle cx="1555.5" cy="151.8" r="15.1" fill="url(#sw)" stroke="#6b8f99" stroke-width="0.8"/><ellipse cx="1556.5" cy="147.20000000000002" rx="1.5" ry="2.5" fill="#fff" opacity="0.95" filter="url(#b2)"/><ellipse cx="1555.7" cy="159.0" rx="1.7" ry="1.8" fill="#fff" opacity="0.9" filter="url(#b2)"/></g>
<g opacity="0.92" ><circle cx="1580.7" cy="151.8" r="15.1" fill="url(#sy)" stroke="#b8892a" stroke-width="0.8"/><ellipse cx="1581.7" cy="147.20000000000002" rx="1.5" ry="2.5" fill="#fff" opacity="0.95" filter="url(#b2)"/><ellipse cx="1580.9" cy="159.0" rx="1.7" ry="1.8" fill="#fff" opacity="0.9" filter="url(#b2)"/></g>
<g opacity="1.0" style="mix-blend-mode:multiply"><circle cx="1605.9" cy="151.8" r="15.1" fill="url(#sP)" stroke="#d98a92" stroke-width="0.8"/><ellipse cx="1606.9" cy="147.20000000000002" rx="1.5" ry="2.5" fill="#fff" opacity="0.95" filter="url(#b2)"/><ellipse cx="1606.1000000000001" cy="159.0" rx="1.7" ry="1.8" fill="#fff" opacity="0.9" filter="url(#b2)"/></g>
<g opacity="0.9" ><circle cx="1630.4" cy="151.8" r="15.1" fill="url(#sG)" stroke="#1c6e3d" stroke-width="0.8"/><ellipse cx="1631.4" cy="147.20000000000002" rx="1.5" ry="2.5" fill="#fff" opacity="0.95" filter="url(#b2)"/><ellipse cx="1630.6000000000001" cy="159.0" rx="1.7" ry="1.8" fill="#fff" opacity="0.9" filter="url(#b2)"/></g>
<g opacity="0.72" ><circle cx="1655.6" cy="151.8" r="15.1" fill="url(#sw)" stroke="#6b8f99" stroke-width="0.8"/><ellipse cx="1656.6" cy="147.20000000000002" rx="1.5" ry="2.5" fill="#fff" opacity="0.95" filter="url(#b2)"/><ellipse cx="1655.8" cy="159.0" rx="1.7" ry="1.8" fill="#fff" opacity="0.9" filter="url(#b2)"/></g>
<line x1="1546.2" y1="154.5" x2="1538.3" y2="172.6" stroke="#2f2f31" stroke-width="2.3" stroke-linecap="round" opacity="0.85"/>
<line x1="1538.3" y1="172.6" x2="1532.3" y2="181.2" stroke="#2f2f31" stroke-width="0.8"/>
<line x1="1677.6" y1="137" x2="1659" y2="177" stroke="#777" stroke-width="2.2" stroke-linecap="round" opacity="0.35" filter="url(#b2)"/>
<line x1="1675.4" y1="135.6" x2="1655.8" y2="178.2" stroke="#1f1f21" stroke-width="3.3" stroke-linecap="round" opacity="0.92"/>
<line x1="1655.8" y1="178.2" x2="1651.7" y2="184.9" stroke="#1f1f21" stroke-width="0.9"/>
<text x="1782" y="112" font-size="29" text-anchor="start" >2 in series</text>
<text x="1689" y="158" font-size="29" text-anchor="start" >2 in parallel</text>
</svg></body></html>
